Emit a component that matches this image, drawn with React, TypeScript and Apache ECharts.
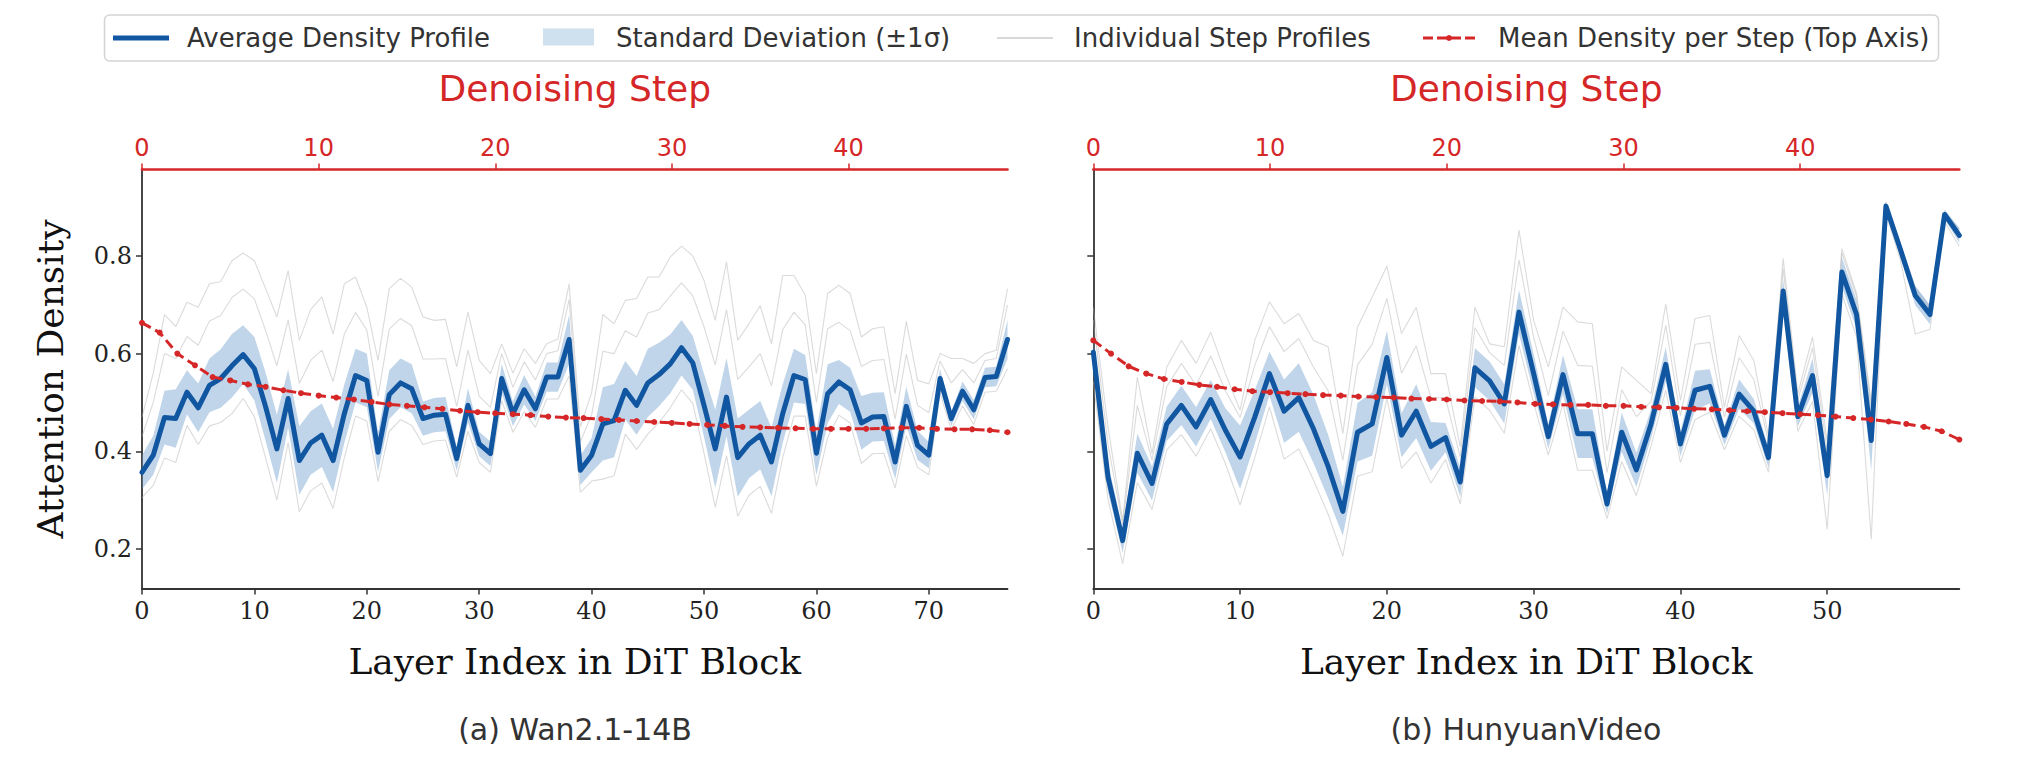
import React, { useEffect, useRef } from "react";
import * as echarts from "echarts";

// ---------- Data ----------
const layerTicksWan = [0, 10, 20, 30, 40, 50, 60, 70];
const layerTicksHun = [0, 10, 20, 30, 40, 50];
const stepTicks = [0, 10, 20, 30, 40];
const densityTicks = [0.2, 0.4, 0.6, 0.8];

// (a) Wan2.1-14B : 78 layers
const wanAvg = [
  0.357, 0.392, 0.469, 0.467, 0.521, 0.489, 0.535, 0.549, 0.575, 0.598,
  0.569, 0.491, 0.405, 0.508, 0.381, 0.417, 0.433, 0.381, 0.477, 0.555,
  0.545, 0.398, 0.516, 0.54, 0.528, 0.467, 0.474, 0.476, 0.385, 0.494,
  0.415, 0.395, 0.549, 0.477, 0.526, 0.487, 0.552, 0.552, 0.629, 0.361,
  0.392, 0.456, 0.463, 0.525, 0.494, 0.54, 0.557, 0.579, 0.612, 0.581,
  0.494, 0.405, 0.511, 0.387, 0.415, 0.433, 0.378, 0.477, 0.555, 0.547,
  0.396, 0.518, 0.542, 0.526, 0.458, 0.47, 0.471, 0.378, 0.492, 0.412,
  0.392, 0.549, 0.467, 0.523, 0.485, 0.551, 0.553, 0.629,
];
const wanStd = [
  0.035, 0.04, 0.055, 0.06, 0.045, 0.05, 0.055, 0.06, 0.065, 0.06,
  0.065, 0.07, 0.07, 0.06, 0.07, 0.065, 0.065, 0.065, 0.06, 0.055,
  0.055, 0.04, 0.05, 0.05, 0.05, 0.035, 0.035, 0.035, 0.025, 0.035,
  0.025, 0.025, 0.03, 0.025, 0.03, 0.025, 0.03, 0.03, 0.05, 0.03,
  0.035, 0.075, 0.075, 0.06, 0.06, 0.07, 0.065, 0.06, 0.057, 0.055,
  0.065, 0.08, 0.08, 0.08, 0.07, 0.07, 0.07, 0.06, 0.055, 0.05,
  0.045, 0.06, 0.045, 0.045, 0.055, 0.05, 0.05, 0.035, 0.04, 0.03,
  0.027, 0.02, 0.015, 0.02, 0.02, 0.02, 0.02, 0.04,
];
const wanStepTop = [
  0.47, 0.56, 0.68, 0.655, 0.705, 0.695, 0.743, 0.747, 0.79, 0.806,
  0.79, 0.733, 0.675, 0.77, 0.627, 0.69, 0.716, 0.64, 0.743, 0.757,
  0.695, 0.586, 0.733, 0.754, 0.736, 0.675, 0.668, 0.67, 0.573, 0.685,
  0.586, 0.559, 0.62, 0.56, 0.61, 0.58, 0.62, 0.63, 0.743, 0.45,
  0.52, 0.68, 0.661, 0.709, 0.713, 0.757, 0.757, 0.798, 0.82, 0.8,
  0.75, 0.668, 0.788, 0.627, 0.661, 0.698, 0.62, 0.76, 0.76, 0.72,
  0.559, 0.723, 0.74, 0.723, 0.634, 0.651, 0.655, 0.518, 0.666, 0.545,
  0.538, 0.6, 0.59, 0.59, 0.58, 0.6, 0.607, 0.733,
];
const wanStepMid = [
  0.43, 0.5, 0.6, 0.59, 0.635, 0.617, 0.667, 0.678, 0.715, 0.732,
  0.712, 0.647, 0.575, 0.669, 0.539, 0.586, 0.607, 0.543, 0.64, 0.684,
  0.648, 0.512, 0.65, 0.672, 0.657, 0.589, 0.589, 0.59, 0.492, 0.607,
  0.513, 0.49, 0.6, 0.531, 0.583, 0.546, 0.6, 0.606, 0.711, 0.42,
  0.474, 0.605, 0.6, 0.647, 0.634, 0.683, 0.69, 0.718, 0.745, 0.718,
  0.655, 0.577, 0.69, 0.547, 0.573, 0.6, 0.534, 0.649, 0.685, 0.659,
  0.5, 0.651, 0.664, 0.647, 0.574, 0.586, 0.588, 0.466, 0.599, 0.494,
  0.479, 0.585, 0.54, 0.567, 0.54, 0.586, 0.59, 0.7,
];
const wanStepLow = [
  0.305, 0.33, 0.386, 0.377, 0.453, 0.414, 0.452, 0.459, 0.477, 0.508,
  0.471, 0.386, 0.3, 0.418, 0.276, 0.319, 0.335, 0.283, 0.387, 0.472,
  0.462, 0.338, 0.441, 0.465, 0.453, 0.414, 0.421, 0.423, 0.347, 0.441,
  0.377, 0.357, 0.504, 0.439, 0.481, 0.449, 0.507, 0.507, 0.554, 0.316,
  0.339, 0.343, 0.35, 0.435, 0.404, 0.435, 0.459, 0.489, 0.526, 0.498,
  0.396, 0.285, 0.391, 0.267, 0.31, 0.328, 0.273, 0.387, 0.472, 0.472,
  0.328, 0.428, 0.474, 0.458, 0.375, 0.395, 0.396, 0.325, 0.432, 0.367,
  0.352, 0.519, 0.444, 0.493, 0.455, 0.521, 0.523, 0.569,
];
const wanStepMean = [
  0.663, 0.643, 0.6, 0.576, 0.552, 0.545, 0.537, 0.532, 0.525, 0.519,
  0.514, 0.51, 0.506, 0.501, 0.496, 0.493, 0.49, 0.487, 0.483, 0.48,
  0.478, 0.476, 0.474, 0.471, 0.469, 0.468, 0.466, 0.464, 0.462, 0.46,
  0.458, 0.456, 0.454, 0.452, 0.45, 0.449, 0.448, 0.447, 0.446, 0.446,
  0.446, 0.446, 0.447, 0.448, 0.448, 0.446, 0.445, 0.445, 0.443, 0.439,
];

// (b) HunyuanVideo : 60 layers
const hunAvg = [
  0.603, 0.347, 0.217, 0.396, 0.334, 0.456, 0.494, 0.45, 0.506, 0.443,
  0.388, 0.47, 0.559, 0.482, 0.51, 0.446, 0.369, 0.277, 0.439, 0.456,
  0.592, 0.433, 0.482, 0.41, 0.428, 0.337, 0.571, 0.544, 0.497, 0.685,
  0.559, 0.43, 0.557, 0.436, 0.436, 0.292, 0.439, 0.362, 0.456, 0.578,
  0.415, 0.525, 0.533, 0.433, 0.517, 0.482, 0.387, 0.728, 0.471, 0.555,
  0.35, 0.767, 0.68, 0.422, 0.902, 0.812, 0.719, 0.68, 0.885, 0.842,
];
const hunStd = [
  0.04, 0.03, 0.025, 0.04, 0.035, 0.035, 0.04, 0.04, 0.04, 0.045,
  0.065, 0.055, 0.045, 0.065, 0.07, 0.07, 0.065, 0.05, 0.06, 0.065,
  0.055, 0.045, 0.055, 0.05, 0.03, 0.03, 0.04, 0.04, 0.04, 0.045,
  0.04, 0.025, 0.04, 0.05, 0.05, 0.02, 0.04, 0.035, 0.03, 0.035,
  0.025, 0.04, 0.035, 0.02, 0.03, 0.025, 0.02, 0.025, 0.02, 0.035,
  0.04, 0.03, 0.03, 0.06, 0.01, 0.015, 0.02, 0.02, 0.01, 0.015,
];
const hunStepTop = [
  0.695, 0.45, 0.258, 0.552, 0.395, 0.572, 0.627, 0.58, 0.644, 0.559,
  0.484, 0.627, 0.706, 0.661, 0.682, 0.627, 0.614, 0.436, 0.654, 0.716,
  0.779, 0.641, 0.695, 0.559, 0.559, 0.409, 0.695, 0.62, 0.614, 0.853,
  0.668, 0.573, 0.695, 0.665, 0.661, 0.4, 0.573, 0.545, 0.518, 0.702,
  0.504, 0.672, 0.678, 0.49, 0.637, 0.586, 0.43, 0.795, 0.518, 0.634,
  0.42, 0.815, 0.723, 0.5, 0.91, 0.822, 0.735, 0.695, 0.89, 0.855,
];
const hunStepMid = [
  0.669, 0.414, 0.25, 0.494, 0.382, 0.532, 0.58, 0.535, 0.595, 0.524,
  0.469, 0.576, 0.655, 0.604, 0.631, 0.572, 0.524, 0.382, 0.577, 0.619,
  0.713, 0.56, 0.616, 0.51, 0.509, 0.388, 0.653, 0.602, 0.576, 0.792,
  0.634, 0.514, 0.646, 0.576, 0.574, 0.356, 0.526, 0.471, 0.502, 0.658,
  0.472, 0.619, 0.623, 0.47, 0.592, 0.547, 0.42, 0.774, 0.505, 0.612,
  0.4, 0.806, 0.717, 0.49, 0.905, 0.82, 0.73, 0.69, 0.89, 0.85,
];
const hunStepLow = [
  0.543, 0.302, 0.17, 0.336, 0.281, 0.403, 0.434, 0.39, 0.446, 0.375,
  0.29, 0.387, 0.491, 0.384, 0.405, 0.341, 0.271, 0.185, 0.349, 0.358,
  0.509, 0.365, 0.399, 0.335, 0.383, 0.292, 0.511, 0.484, 0.437, 0.617,
  0.499, 0.392, 0.497, 0.361, 0.361, 0.262, 0.379, 0.309, 0.411, 0.525,
  0.377, 0.465, 0.48, 0.403, 0.472, 0.444, 0.357, 0.69, 0.441, 0.502,
  0.24, 0.722, 0.635, 0.22, 0.887, 0.79, 0.64, 0.65, 0.87, 0.82,
];
const hunStepMean = [
  0.627, 0.6, 0.574, 0.559, 0.548, 0.542, 0.536, 0.532, 0.527, 0.523,
  0.521, 0.519, 0.517, 0.515, 0.514, 0.512, 0.511, 0.51, 0.508, 0.507,
  0.506, 0.504, 0.503, 0.502, 0.5, 0.497, 0.496, 0.495, 0.495, 0.493,
  0.493, 0.491, 0.49, 0.489, 0.487, 0.486, 0.484, 0.482, 0.48, 0.478,
  0.476, 0.474, 0.471, 0.468, 0.465, 0.461, 0.456, 0.45, 0.441, 0.424,
];

// ---------- Styling ----------
const SERIF = "'DejaVu Serif', serif";
const SANS = "'DejaVu Sans', sans-serif";
const BLUE = "#1156a1";
const RED = "#d62728";
const BAND = "rgba(105,155,202,0.42)";
const GRAY = "rgba(175,175,175,0.45)";
const SPINE = "#333";

const pairs = (vals: number[]) => vals.map((v, i) => [i, v]);

function bottomAxis(grid: number, max: number, ticks: number[]) {
  return {
    type: "value",
    gridIndex: grid,
    position: "bottom",
    min: 0,
    max,
    axisLine: { show: true, onZero: false, lineStyle: { color: SPINE, width: 1.8 } },
    axisTick: { show: true, length: 6, customValues: ticks, lineStyle: { color: SPINE, width: 1.5 } },
    axisLabel: { customValues: ticks, fontFamily: SERIF, fontSize: 24, color: "#222", margin: 10 },
    splitLine: { show: false },
    name: "Layer Index in DiT Block",
    nameLocation: "middle",
    nameGap: 73,
    nameTextStyle: { fontFamily: SERIF, fontSize: 36, color: "#111", verticalAlign: "middle" },
  };
}

function topAxis(grid: number) {
  return {
    type: "value",
    gridIndex: grid,
    position: "top",
    min: 0,
    max: 49,
    axisLine: { show: true, onZero: false, lineStyle: { color: RED, width: 2.6 } },
    axisTick: { show: true, length: 6, customValues: stepTicks, lineStyle: { color: RED, width: 1.5 } },
    axisLabel: { customValues: stepTicks, fontFamily: SANS, fontSize: 24, color: RED, margin: 10 },
    splitLine: { show: false },
    name: "Denoising Step",
    nameLocation: "middle",
    nameGap: 81,
    nameTextStyle: { fontFamily: SANS, fontSize: 36, color: RED, verticalAlign: "middle" },
  };
}

function yAxisFor(grid: number, withLabels: boolean) {
  return {
    type: "value",
    gridIndex: grid,
    min: 0.119,
    max: 0.977,
    axisLine: { show: true, onZero: false, lineStyle: { color: SPINE, width: 1.8 } },
    axisTick: { show: true, length: 6, customValues: densityTicks, lineStyle: { color: SPINE, width: 1.5 } },
    axisLabel: {
      show: withLabels,
      customValues: densityTicks,
      fontFamily: SERIF,
      fontSize: 24,
      color: "#222",
      margin: 10,
      formatter: (v: number) => v.toFixed(1),
    },
    splitLine: { show: false },
    name: withLabels ? "Attention Density" : "",
    nameLocation: "middle",
    nameGap: 92,
    nameTextStyle: { fontFamily: SERIF, fontSize: 36, color: "#111", verticalAlign: "middle" },
  };
}

function panelSeries(
  key: string,
  xBottom: number,
  xTop: number,
  yIdx: number,
  avg: number[],
  std: number[],
  steps: number[][],
  stepMean: number[]
) {
  const grayLines = steps.map((s, k) => ({
    name: "Individual Step Profiles",
    id: `${key}-gray-${k}`,
    type: "line",
    xAxisIndex: xBottom,
    yAxisIndex: yIdx,
    data: pairs(s),
    symbol: "none",
    silent: true,
    z: 1,
    lineStyle: { color: GRAY, width: 1.1 },
  }));
  const lower = avg.map((v, i) => v - std[i]);
  const upper = avg.map((v, i) => v + std[i]);
  return [
    ...grayLines,
    {
      name: "Standard Deviation (±1σ)",
      id: `${key}-band`,
      type: "custom",
      xAxisIndex: xBottom,
      yAxisIndex: yIdx,
      data: avg.map((v, i) => [i, lower[i], upper[i]]),
      encode: { x: 0, y: [1, 2] },
      silent: true,
      clip: true,
      z: 2,
      renderItem: (params: any, api: any) => {
        if (params.dataIndex !== 0) return null;
        const pts: number[][] = [];
        for (let i = 0; i < lower.length; i++) pts.push(api.coord([i, lower[i]]));
        for (let i = upper.length - 1; i >= 0; i--) pts.push(api.coord([i, upper[i]]));
        return { type: "polygon", shape: { points: pts }, style: { fill: BAND } };
      },
    },
    {
      name: "Average Density Profile",
      id: `${key}-avg`,
      type: "line",
      xAxisIndex: xBottom,
      yAxisIndex: yIdx,
      data: pairs(avg),
      symbol: "none",
      z: 5,
      lineStyle: { color: BLUE, width: 5, join: "round", cap: "round" },
    },
    {
      name: "Mean Density per Step (Top Axis)",
      id: `${key}-step`,
      type: "line",
      xAxisIndex: xTop,
      yAxisIndex: yIdx,
      data: pairs(stepMean),
      symbol: "circle",
      symbolSize: 6,
      showAllSymbol: true,
      z: 6,
      itemStyle: { color: RED },
      lineStyle: { color: RED, width: 3, type: [10, 5] },
    },
  ];
}

function legendGraphic() {
  const cy = 38;
  const txt = (x: number, text: string) => ({
    type: "text",
    x,
    y: cy,
    style: {
      text,
      font: `26px ${SANS}`,
      fill: "#333",
      textAlign: "left",
      textVerticalAlign: "middle",
    },
  });
  return [
    {
      type: "rect",
      shape: { x: 104.5, y: 15, width: 1834, height: 46, r: 5 },
      style: { fill: "rgba(255,255,255,0.9)", stroke: "#d4d4d4", lineWidth: 1.5 },
      z: 10,
    },
    {
      type: "line",
      shape: { x1: 113, y1: cy, x2: 169, y2: cy },
      style: { stroke: BLUE, lineWidth: 5 },
      z: 11,
    },
    txt(187, "Average Density Profile"),
    {
      type: "rect",
      shape: { x: 543, y: 28.5, width: 51, height: 17 },
      style: { fill: "#cfe0ee" },
      z: 11,
    },
    txt(616, "Standard Deviation (±1σ)"),
    {
      type: "line",
      shape: { x1: 997, y1: cy, x2: 1053, y2: cy },
      style: { stroke: "#cccccc", lineWidth: 1.6 },
      z: 11,
    },
    txt(1074, "Individual Step Profiles"),
    {
      type: "line",
      shape: { x1: 1423, y1: cy, x2: 1476, y2: cy },
      style: { stroke: RED, lineWidth: 3, lineDash: [10, 4] },
      z: 11,
    },
    {
      type: "circle",
      shape: { cx: 1449, cy, r: 3 },
      style: { fill: RED },
      z: 12,
    },
    txt(1498, "Mean Density per Step (Top Axis)"),
  ].map((e: any) => ({ z: 11, ...e }));
}

function subtitle(x: number, text: string) {
  return {
    type: "text",
    x,
    y: 729,
    z: 11,
    style: {
      text,
      font: `30px ${SANS}`,
      fill: "#333",
      textAlign: "center",
      textVerticalAlign: "middle",
    },
  };
}

export default function App() {
  const ref = useRef<HTMLDivElement>(null);

  useEffect(() => {
    if (!ref.current) return;
    const chart = echarts.init(ref.current, null, { renderer: "svg" });
    const option: any = {
      animation: false,
      backgroundColor: "#ffffff",
      grid: [
        { left: 142, top: 169.5, width: 865.5, height: 419, outerBoundsMode: "none", containLabel: false },
        { left: 1093.3, top: 169.5, width: 866, height: 419, outerBoundsMode: "none", containLabel: false },
      ],
      xAxis: [
        bottomAxis(0, 77, layerTicksWan),
        topAxis(0),
        bottomAxis(1, 59, layerTicksHun),
        topAxis(1),
      ],
      yAxis: [yAxisFor(0, true), yAxisFor(1, false)],
      series: [
        ...panelSeries("wan", 0, 1, 0, wanAvg, wanStd, [wanStepTop, wanStepMid, wanStepLow], wanStepMean),
        ...panelSeries("hun", 2, 3, 1, hunAvg, hunStd, [hunStepTop, hunStepMid, hunStepLow], hunStepMean),
      ],
      graphic: [
        ...legendGraphic(),
        subtitle(575, "(a) Wan2.1-14B"),
        subtitle(1526, "(b) HunyuanVideo"),
      ],
    };
    chart.setOption(option);
    return () => chart.dispose();
  }, []);

  return (
    <div
      ref={ref}
      style={{ position: "fixed", left: 0, top: 0, width: 2023, height: 771, background: "#fff" }}
    />
  );
}
